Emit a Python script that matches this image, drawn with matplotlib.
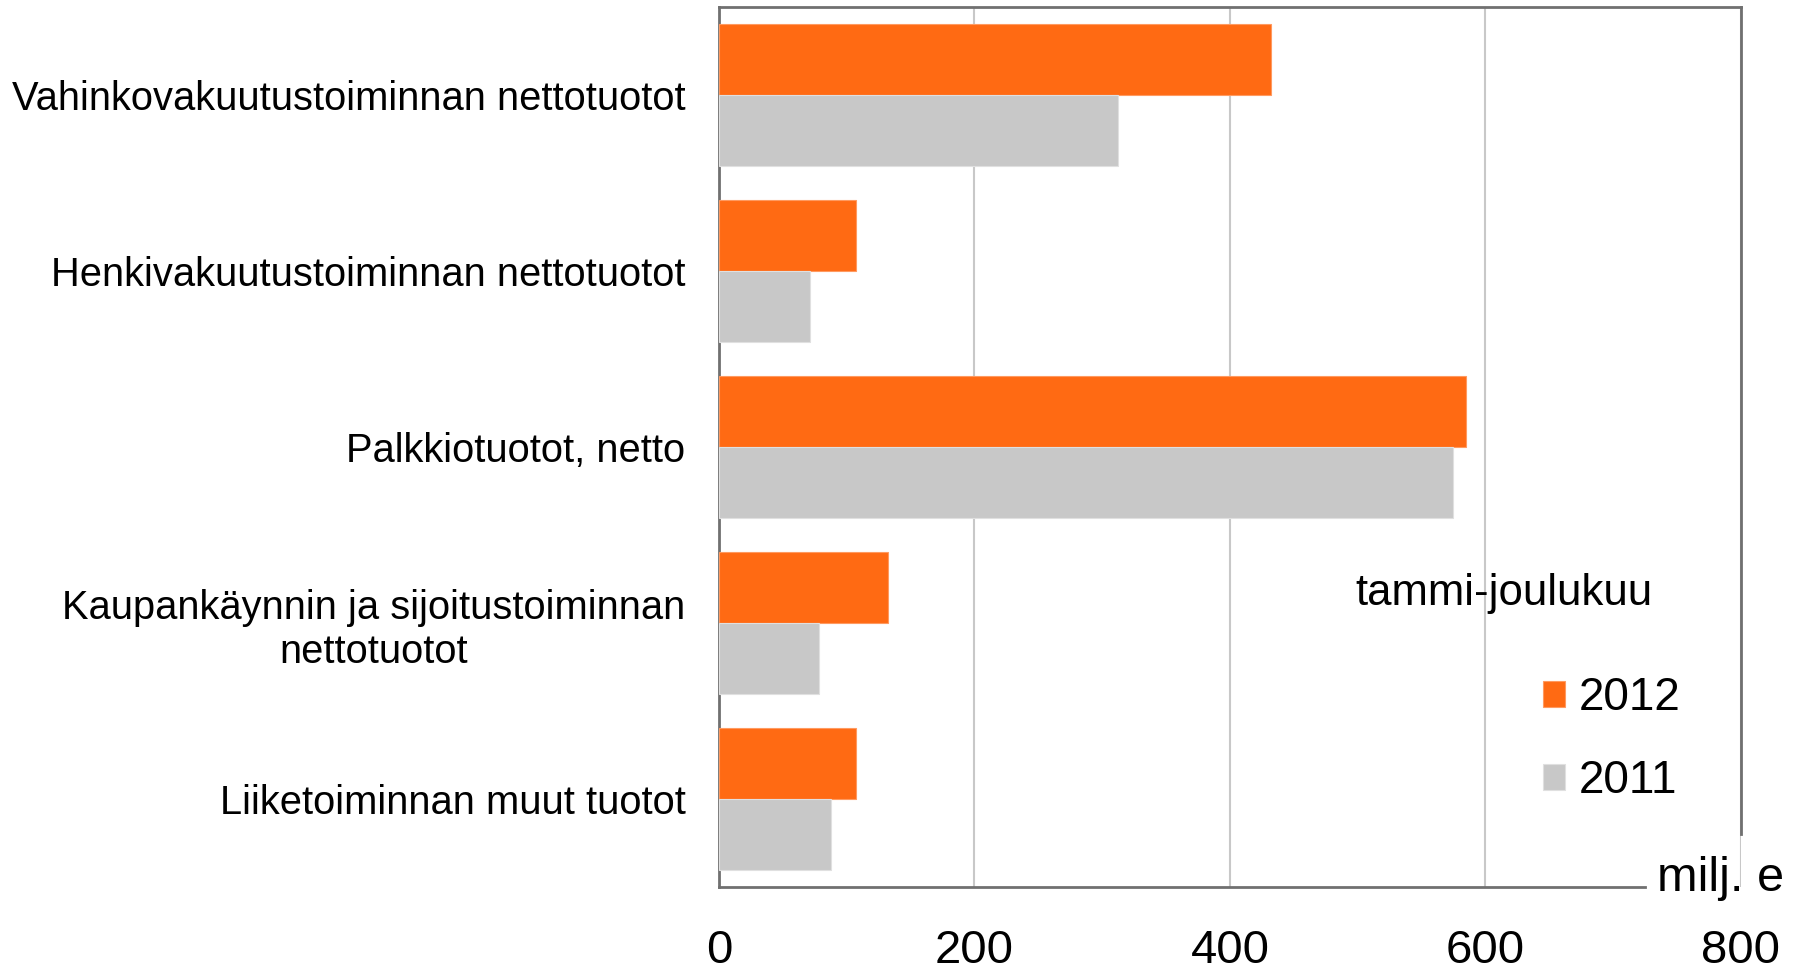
import matplotlib.pyplot as plt
import numpy as np

plt.rcParams['font.family'] = ['Liberation Sans', 'DejaVu Sans']

# data (milj. e)
categories = ["Vahinkovakuutustoiminnan nettotuotot",
              "Henkivakuutustoiminnan nettotuotot",
              "Palkkiotuotot, netto",
              "Kaupankäynnin ja sijoitustoiminnan\nnettotuotot",
              "Liiketoiminnan muut tuotot"]
vals_2012 = [432, 107, 585, 132, 107]
vals_2011 = [312, 71, 575, 78, 88]
years = ["2012", "2011"]
xticks = [0, 200, 400, 600, 800]

orange = "#FF6A13"
grey = "#C8C8C8"

fig = plt.figure(figsize=(18.05, 9.71), dpi=100)
ax = fig.add_axes([0.3983, 0.0865, 0.5662, 0.9063])

y = np.arange(len(categories))
h = 0.405
b1 = ax.barh(y - h / 2, vals_2012, height=h, color=orange, edgecolor="#FF9A60", linewidth=0.8, label=years[0], zorder=3)
b2 = ax.barh(y + h / 2, vals_2011, height=h, color=grey, edgecolor="#E0E0E0", linewidth=0.8, label=years[1], zorder=3)

ax.set_xlim(0, 800)
ax.set_ylim(4.5, -0.5)

# grid
ax.set_xticks(xticks)
ax.xaxis.grid(True, color="#C8C8C8", linewidth=1.5, zorder=0)
ax.set_axisbelow(True)

ax.set_yticks(y)
ax.set_yticklabels(categories, fontsize=28.7, multialignment="center")
ax.tick_params(axis="y", length=0, pad=24)
ax.set_xticklabels([str(t) for t in xticks], fontsize=34)
ax.tick_params(axis="x", length=0, pad=30)

for s in ax.spines.values():
    s.set_color("#707070")
    s.set_linewidth(2)
ax.spines["bottom"].set_bounds(0, 725)
ax.spines["right"].set_bounds(-0.5, 4.2)

ax.text(0.918, -0.004, "milj. e", transform=ax.transAxes, fontsize=35,
        ha="left", va="baseline")

fig.text(0.833, 0.389, "tammi-joulukuu", fontsize=31.5, ha="center", va="center")
leg = ax.legend(handles=[b1, b2], loc="upper left", bbox_to_anchor=(0.7655, 0.2865),
                fontsize=33, frameon=False, handlelength=0.5, handleheight=0.5,
                handletextpad=0.3, labelspacing=0.85)

fig.savefig("out.png", dpi=100)
